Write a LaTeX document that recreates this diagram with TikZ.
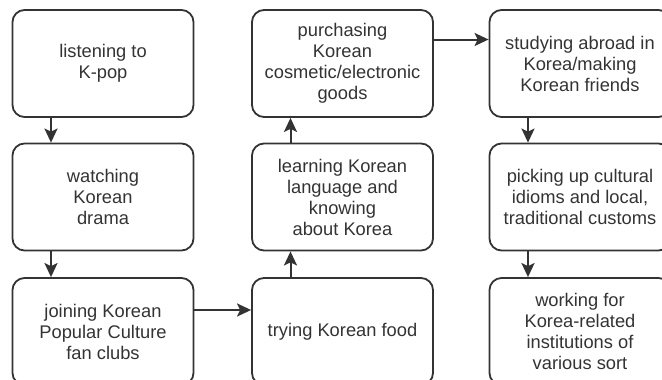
\documentclass[tikz,border=0pt]{standalone}
\usepackage{fontspec}
\setmainfont{Liberation Sans}
\usetikzlibrary{arrows.meta}
\definecolor{ink}{HTML}{333333}

\begin{document}
\begin{tikzpicture}
  [x=1pt,y=-1pt,every node/.style={draw=ink,line width=1.8pt,rounded corners=12pt,minimum width=181pt,minimum height=107pt,align=center,text=ink,font=\fontsize{18.3}{21}\selectfont},
   >={Stealth[length=14pt,width=13pt,inset=3pt]}]
  \useasboundingbox (0,0) rectangle (662,380);

  \node (n0) at (103,63.5)     {listening to\\K-pop};
  \node (n1) at (103,197)      {watching\\Korean\\drama};
  \node (n2) at (103,331.5)    {joining Korean\\Popular Culture\\fan clubs};
  \node (n3) at (342.5,331.5)  {trying Korean food};
  \node (n4) at (342.5,197)    {learning Korean\\language and\\knowing\\about Korea};
  \node (n5) at (342.5,63.5)   {purchasing\\Korean\\cosmetic/electronic\\goods};
  \node (n6) at (580,63.5)     {studying abroad in\\Korea/making\\Korean friends};
  \node (n7) at (580,197)      {picking up cultural\\idioms and local,\\traditional customs};
  \node (n8) at (580,331.5)    {working for\\Korea-related\\institutions of\\various sort};

  \foreach \from/\to in {n0/n1, n1/n2, n6/n7, n7/n8}
    \draw[->,ink,line width=2pt] ([xshift=-52pt]\from.south) -- ([xshift=-52pt]\to.north);
  \foreach \from/\to in {n3/n4, n4/n5}
    \draw[->,ink,line width=2pt] ([xshift=-52pt]\from.north) -- ([xshift=-52pt]\to.south);
  \draw[->,ink,line width=2pt] ([yshift=21.5pt]n2.east) -- ([yshift=21.5pt]n3.west);
  \draw[->,ink,line width=2pt] ([yshift=24pt]n5.east) -- ([yshift=24pt]n6.west);
\end{tikzpicture}
\end{document}
